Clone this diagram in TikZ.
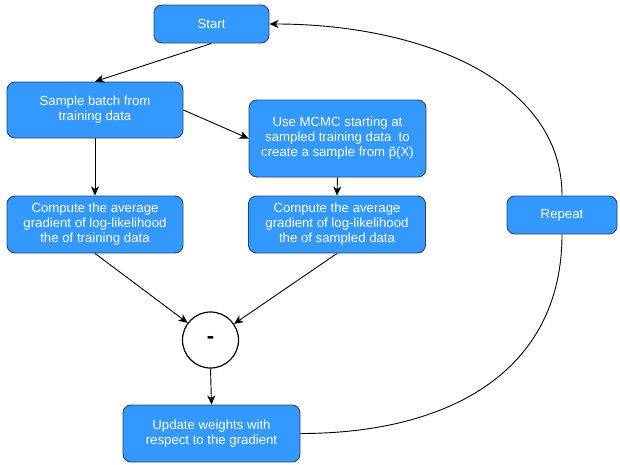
\documentclass[tikz,border=0pt]{standalone}
\usepackage{fontspec}
\setmainfont{Liberation Sans}
\usetikzlibrary{arrows.meta}
\definecolor{boxfill}{HTML}{3399FF}
\definecolor{boxline}{HTML}{2B4560}
\tikzset{
  flowbox/.style={draw=boxline, fill=boxfill, line width=0.9pt, rounded corners=8pt,
    text=white, align=center, inner sep=0pt,
    font=\fontsize{13.2}{15}\selectfont},
  link/.style={draw=black, line width=0.9pt, -{Stealth[length=9pt,width=8pt,inset=2.5pt]}},
  plain/.style={draw=black, line width=0.9pt}
}
\begin{document}
\begin{tikzpicture}[x=1pt,y=-1pt]
\useasboundingbox (0,0) rectangle (620,464);

% process steps
\node[flowbox, minimum width=115pt, minimum height=38pt] (start) at (211.5,24) {Start};
\node[flowbox, minimum width=176pt, minimum height=56pt] (sample) at (95,110) {Sample batch from\\training data};
\node[flowbox, minimum width=177pt, minimum height=77pt] (mcmc) at (337.5,138.5) {Use MCMC starting at\\sampled training data\ \ to\\create a sample from \~{p}(X)};
\node[flowbox, minimum width=176pt, minimum height=57pt] (gradl) at (95,224.5) {Compute the average\\gradient of log-likelihood\\the of training data};
\node[flowbox, minimum width=177pt, minimum height=57pt] (gradr) at (337,224.5) {Compute the average\\gradient of log-likelihood\\the of sampled data};
\node[flowbox, minimum width=110pt, minimum height=38pt] (rep) at (562,215) {Repeat};
\node[flowbox, minimum width=177pt, minimum height=57pt] (upd) at (211.5,433.5) {Update weights with\\respect to the gradient};

% difference of the two gradients
\node[circle, draw=black, line width=1.2pt, fill=white, minimum size=56pt, inner sep=0pt,
      font=\fontsize{22}{22}\bfseries] (minus) at (210.5,340) {-};

% connectors
\draw[link] (start.south) -- (sample.north);
\draw[link] (sample.east) -- (mcmc.west);
\draw[link] (sample.south) -- (gradl.north);
\draw[link] (mcmc.south) -- (gradr.north);
\draw[link] (gradl.south) -- (minus);
\draw[link] (gradr.south) -- (minus);
\draw[link] (minus.south) -- (upd.north);

% loop back to the start
\draw[plain] (upd.east) .. controls +(150,0) and +(0,136) .. (rep.south);
\draw[link] (rep.north) .. controls +(0,-116) and +(150,0) .. (start.east);
\end{tikzpicture}
\end{document}
